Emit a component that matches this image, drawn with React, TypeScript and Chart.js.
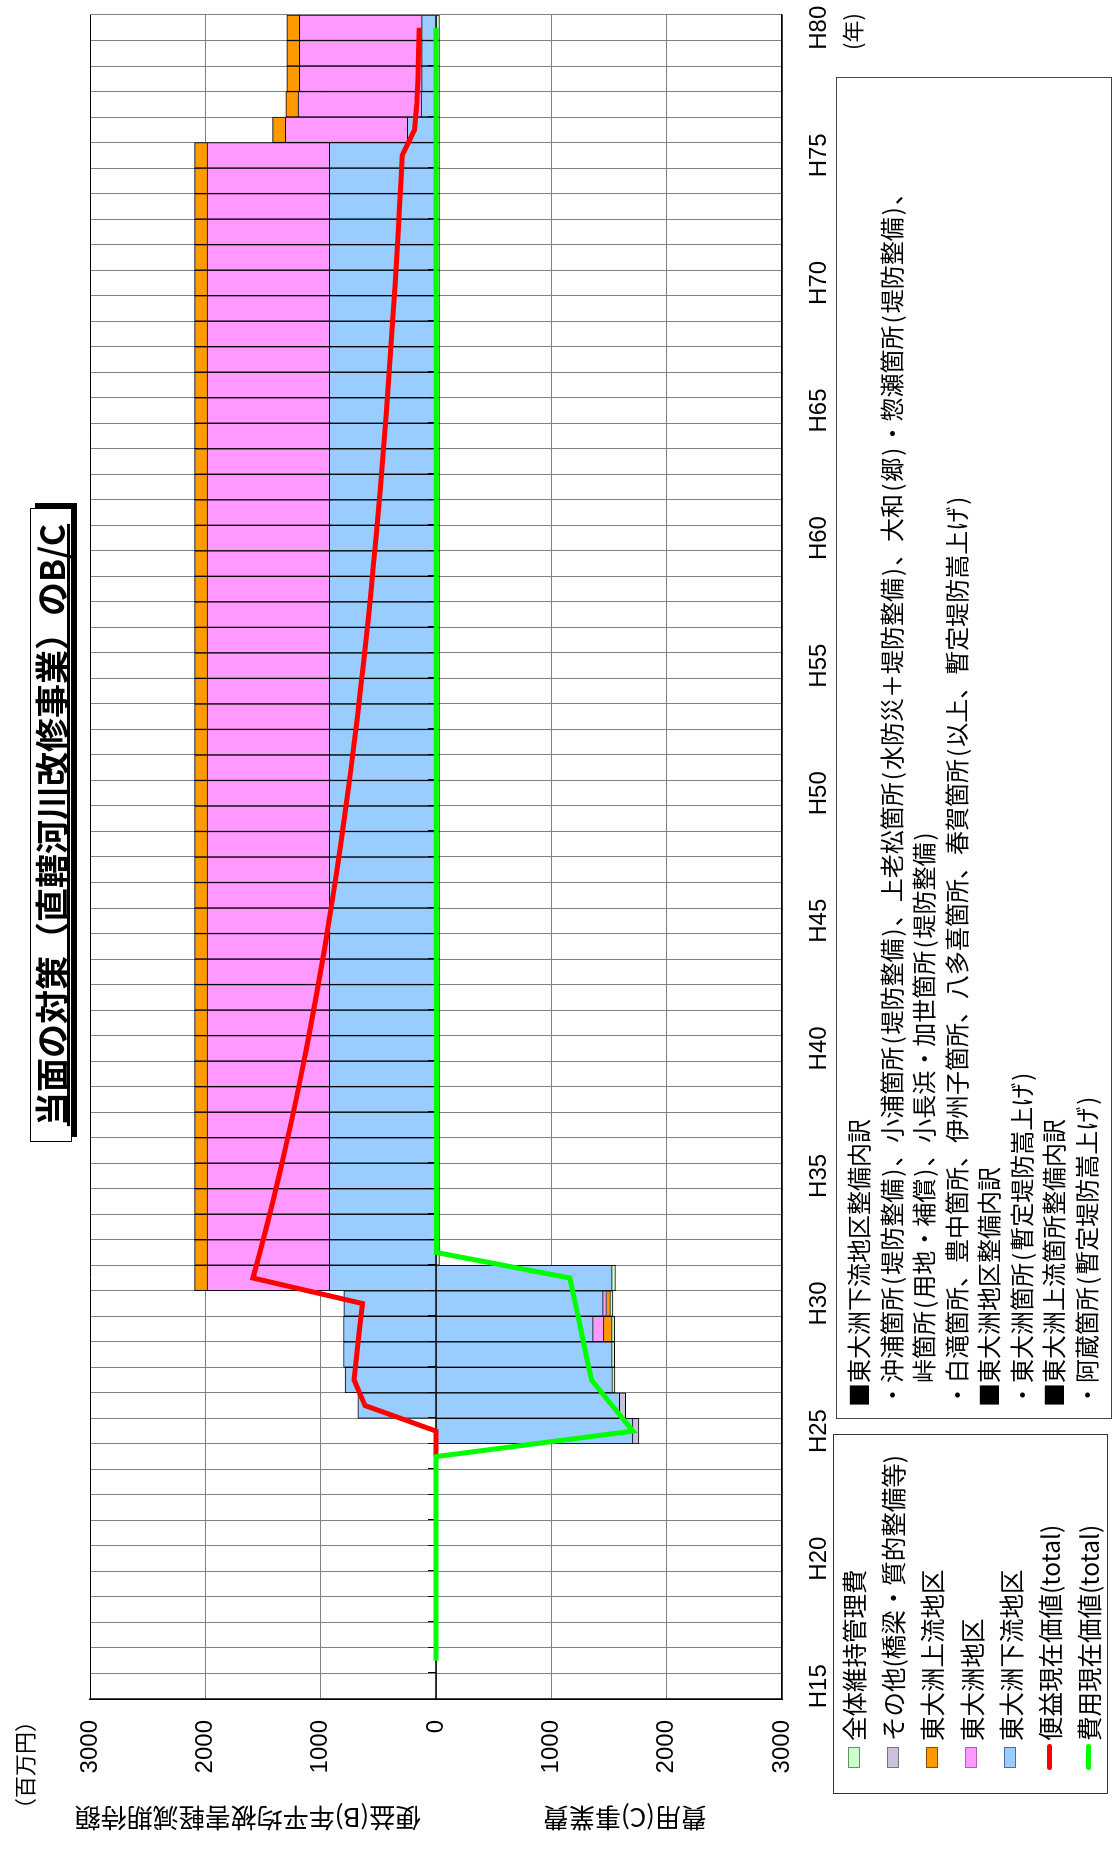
import React, { useEffect, useRef } from 'react';
import { Chart, registerables } from 'chart.js';

Chart.register(...registerables);

// ---------- data ----------
const years = [
  'H15','H16','H17','H18','H19','H20','H21','H22','H23','H24',
  'H25','H26','H27','H28','H29','H30','H31','H32','H33','H34',
  'H35','H36','H37','H38','H39','H40','H41','H42','H43','H44',
  'H45','H46','H47','H48','H49','H50','H51','H52','H53','H54',
  'H55','H56','H57','H58','H59','H60','H61','H62','H63','H64',
  'H65','H66','H67','H68','H69','H70','H71','H72','H73','H74',
  'H75','H76','H77','H78','H79','H80',
];
const shownYears = ['H15','H20','H25','H30','H35','H40','H45','H50','H55','H60','H65','H70','H75','H80'];

// Benefit (B) stacked bars, 百万円
const benefitDownstream = [
  null,null,null,null,null,null,null,null,null,null,null,
  678,788,802,802,800,
  924,924,924,924,924,924,924,924,924,924,924,924,924,924,924,
  924,924,924,924,924,924,924,924,924,924,924,924,924,924,924,
  924,924,924,924,924,924,924,924,924,924,924,924,924,924,924,
  248,130,124,124,124,
];
const benefitCentral = [
  null,null,null,null,null,null,null,null,null,null,null,null,null,null,null,null,
  1061,1061,1061,1061,1061,1061,1061,1061,1061,1061,1061,1061,1061,1061,1061,
  1061,1061,1061,1061,1061,1061,1061,1061,1061,1061,1061,1061,1061,1061,1061,
  1061,1061,1061,1061,1061,1061,1061,1061,1061,1061,1061,1061,1061,1061,1061,
  1059,1066,1060,1060,1060,
];
const benefitUpstream = [
  null,null,null,null,null,null,null,null,null,null,null,null,null,null,null,null,
  108,108,108,108,108,108,108,108,108,108,108,108,108,108,108,
  108,108,108,108,108,108,108,108,108,108,108,108,108,108,108,
  108,108,108,108,108,108,108,108,108,108,108,108,108,108,108,
  110,106,109,109,109,
];

// Cost (C) stacked bars, 百万円 (drawn downward)
const costDownstream = [
  null,null,null,null,null,null,null,null,null,null,
  1708,1593,1530,1527,1362,1449,1527,
  null,null,null,null,null,null,null,null,null,null,null,null,null,null,null,null,null,
  null,null,null,null,null,null,null,null,null,null,null,null,null,null,null,null,
  null,null,null,null,null,null,null,null,null,null,null,null,null,null,null,null,
];
const costCentral = [
  null,null,null,null,null,null,null,null,null,null,null,null,null,null,
  93,29,
  null,null,null,null,null,null,null,null,null,null,null,null,null,null,null,null,null,
  null,null,null,null,null,null,null,null,null,null,null,null,null,null,null,null,null,
  null,null,null,null,null,null,null,null,null,null,null,null,null,null,null,null,
];
const costUpstream = [
  null,null,null,null,null,null,null,null,null,null,null,null,null,null,
  72,35,
  null,null,null,null,null,null,null,null,null,null,null,null,null,null,null,null,null,
  null,null,null,null,null,null,null,null,null,null,null,null,null,null,null,null,null,
  null,null,null,null,null,null,null,null,null,null,null,null,null,null,null,null,
];
const costOther = [
  null,null,null,null,null,null,null,null,null,null,
  52,52,
  null,null,null,null,null,null,null,null,null,null,null,null,null,null,null,null,null,null,
  null,null,null,null,null,null,null,null,null,null,null,null,null,null,null,null,null,null,
  null,null,null,null,null,null,null,null,null,null,null,null,null,null,null,null,null,null,
];
const costMaintenance = [
  null,null,null,null,null,null,null,null,null,null,null,null,
  22,23,23,22,29,
  30,30,30,30,30,30,30,30,30,30,30,30,30,30,30,30,30,
  30,30,30,30,30,30,30,30,30,30,30,30,30,30,30,30,
  30,30,30,30,30,30,30,30,30,30,30,30,30,30,30,30,
];

// Present values (total)
const benefitPV = [
  null,null,null,null,null,null,null,null,null,
  0,0,615,710,688,664,638,
  1587,1527,1470,1414,1361,1310,1260,1213,1167,1123,1081,1040,1001,963,927,
  892,858,826,795,765,736,708,681,656,631,607,584,562,541,521,
  501,482,464,446,430,413,398,383,368,354,341,328,316,304,292,
  186,166,157,151,146,
];
const costPV = [
  null,
  0,0,0,0,0,0,0,0,0,
  1708,1527,1348,1301,1255,1208,1160,
  5,5,5,5,4,4,4,4,4,4,4,3,3,3,3,3,3,3,3,3,3,3,
  2,2,2,2,2,2,2,2,2,2,2,2,2,2,2,2,
  1,1,1,1,1,1,1,1,1,1,1,
];

// ---------- styles ----------
const BLUE = '#99CCFF';
const PINK = '#FF99FF';
const ORANGE = '#FF9900';
const LAVENDER = '#CCC0DA';
const LIGHTGREEN = '#CCFFCC';
const RED = '#FF0000';
const GREEN = '#00FF00';

const JP = '"Noto Sans CJK JP", "Noto Sans", sans-serif';
const LAT = '"Liberation Sans", Arial, sans-serif';

const legendItems = [
  { label: '全体維持管理費', kind: 'box', color: LIGHTGREEN, edge: '#5a9a5a' },
  { label: 'その他(橋梁・質的整備等)', kind: 'box', color: LAVENDER, edge: '#777777' },
  { label: '東大洲上流地区', kind: 'box', color: ORANGE, edge: '#8a4a00' },
  { label: '東大洲地区', kind: 'box', color: PINK, edge: '#b060b0' },
  { label: '東大洲下流地区', kind: 'box', color: BLUE, edge: '#4a6e9a' },
  { label: '便益現在価値(total)', kind: 'line', color: RED, edge: RED },
  { label: '費用現在価値(total)', kind: 'line', color: GREEN, edge: GREEN },
];

const notes = [
  { text: '■東大洲下流地区整備内訳', indent: 0 },
  { text: '・沖浦箇所(堤防整備)、小浦箇所(堤防整備)、上老松箇所(水防災＋堤防整備)、大和(郷)・惣瀬箇所(堤防整備)、', indent: 0 },
  { text: '峠箇所(用地・補償)、小長浜・加世箇所(堤防整備)', indent: 1 },
  { text: '・白滝箇所、豊中箇所、伊州子箇所、八多喜箇所、春賀箇所(以上、暫定堤防嵩上げ)', indent: 0 },
  { text: '■東大洲地区整備内訳', indent: 0 },
  { text: '・東大洲箇所(暫定堤防嵩上げ)', indent: 0 },
  { text: '■東大洲上流箇所整備内訳', indent: 0 },
  { text: '・阿蔵箇所(暫定堤防嵩上げ)', indent: 0 },
];

const W = 1860; // unrotated width
const H = 1118; // unrotated height

const neg = (a: (number | null)[]) => a.map((v) => (v == null ? null : -v));

// parentheses a little wider than ASCII ones (proportional Japanese font look)
function withParens(text: string) {
  const parts = text.split(/([()])/);
  return parts.map((p, i) =>
    p === '(' || p === ')' ? (
      <span key={i} style={{ margin: '0 0.085em' }}>
        {p}
      </span>
    ) : (
      <React.Fragment key={i}>{p}</React.Fragment>
    )
  );
}

const zeroLinePlugin = {
  id: 'zeroLine',
  beforeDatasetsDraw(chart: any) {
    chart.$zeroDone = false;
  },
  beforeDatasetDraw(chart: any, args: any) {
    if (chart.$zeroDone || args.meta.type !== 'line') return;
    chart.$zeroDone = true;
    const { ctx, chartArea } = chart;
    const y0 = chart.scales.y.getPixelForValue(0);
    const n = years.length;
    const band = (chartArea.right - chartArea.left) / n;
    ctx.save();
    ctx.strokeStyle = '#000';
    ctx.lineWidth = 1.5;
    ctx.beginPath();
    ctx.moveTo(chartArea.left, y0);
    ctx.lineTo(chartArea.right, y0);
    ctx.stroke();
    ctx.lineWidth = 1;
    ctx.beginPath();
    for (let k = 1; k < n; k++) {
      const x = Math.round(chartArea.left + k * band) + 0.5;
      ctx.moveTo(x, y0 - 8);
      ctx.lineTo(x, y0);
    }
    ctx.stroke();
    ctx.restore();
  },
};

export default function App() {
  const ref = useRef<HTMLCanvasElement>(null);

  useEffect(() => {
    document.body.style.margin = '0';
    const bar = (label: string, data: (number | null)[], color: string) => ({
      type: 'bar' as const,
      label,
      data,
      backgroundColor: color,
      borderColor: '#000',
      borderWidth: 1,
      stack: 'bars',
      order: 10,
      barPercentage: 1,
      categoryPercentage: 1,
    });
    const chart = new Chart(ref.current as HTMLCanvasElement, {
      type: 'bar',
      data: {
        labels: years,
        datasets: [
          bar('東大洲下流地区', benefitDownstream, BLUE),
          bar('東大洲地区', benefitCentral, PINK),
          bar('東大洲上流地区', benefitUpstream, ORANGE),
          bar('東大洲下流地区(C)', neg(costDownstream), BLUE),
          bar('東大洲地区(C)', neg(costCentral), PINK),
          bar('東大洲上流地区(C)', neg(costUpstream), ORANGE),
          bar('その他(C)', neg(costOther), LAVENDER),
          bar('全体維持管理費(C)', neg(costMaintenance), LIGHTGREEN),
          {
            type: 'line' as const,
            label: '便益現在価値(total)',
            data: benefitPV,
            borderColor: RED,
            backgroundColor: RED,
            borderWidth: 5,
            pointRadius: 0,
            tension: 0,
            fill: false,
            stack: 'pvB',
            order: 1,
          },
          {
            type: 'line' as const,
            label: '費用現在価値(total)',
            data: neg(costPV),
            borderColor: GREEN,
            backgroundColor: GREEN,
            borderWidth: 5,
            pointRadius: 0,
            tension: 0,
            fill: false,
            stack: 'pvC',
            order: 0,
          },
        ] as any,
      },
      options: {
        responsive: false,
        animation: false,
        devicePixelRatio: 1,
        layout: { padding: { left: 0, right: 15, top: 90, bottom: 0 } },
        plugins: { legend: { display: false }, tooltip: { enabled: false } },
        scales: {
          x: {
            stacked: true,
            offset: true,
            grid: {
              offset: true,
              color: '#808080',
              lineWidth: 1,
              drawTicks: true,
              tickLength: 23,
              tickColor: 'rgba(0,0,0,0)',
            },
            border: { color: '#000', width: 1.5 },
            ticks: {
              autoSkip: false,
              maxRotation: 0,
              minRotation: 0,
              padding: 0,
              color: '#000',
              font: { family: LAT, size: 24 },
              callback: (_v: any, i: number) => (shownYears.includes(years[i]) ? years[i] : ''),
            },
            afterFit: (s: any) => {
              s.height = H - 782;
            },
          },
          y: {
            stacked: true,
            min: -3000,
            max: 3000,
            ticks: {
              stepSize: 1000,
              padding: 0,
              color: '#000',
              font: { family: LAT, size: 24 },
              callback: (v: any) => String(Math.abs(Number(v))),
            },
            grid: {
              drawTicks: true,
              tickLength: 21,
              tickColor: 'rgba(0,0,0,0)',
              color: (c: any) => (c.tick && c.tick.value === 3000 ? '#000' : '#808080'),
              lineWidth: 1,
            },
            border: { color: '#000', width: 1.5 },
            afterFit: (s: any) => {
              s.width = 161;
            },
          },
        },
      } as any,
      plugins: [zeroLinePlugin],
    });
    return () => chart.destroy();
  }, []);

  return (
    <div
      style={{
        position: 'absolute',
        left: 0,
        top: 0,
        width: W,
        height: H,
        background: '#fff',
        transformOrigin: '0 0',
        transform: `translateY(${W}px) rotate(-90deg)`,
        fontFamily: JP,
        color: '#000',
        overflow: 'hidden',
      }}
    >
      <canvas ref={ref} width={W} height={H} style={{ position: 'absolute', left: 0, top: 0, width: W, height: H }} />

      {/* title */}
      <div
        style={{
          position: 'absolute',
          left: 718,
          top: 30,
          width: 634,
          height: 42,
          boxSizing: 'border-box',
          border: '1px solid #000',
          boxShadow: '5px 5px 0 #000',
          background: '#fff',
          display: 'flex',
          alignItems: 'center',
          justifyContent: 'center',
          fontSize: 34,
          fontWeight: 700,
          textDecoration: 'underline',
          whiteSpace: 'nowrap',
          lineHeight: '40px',
        }}
      >
        当面の対策（直轄河川改修事業）のB/C
      </div>

      {/* unit */}
      <div style={{ position: 'absolute', left: 40, top: 10, fontSize: 22, lineHeight: '26px', whiteSpace: 'nowrap' }}>
        （百万円）
      </div>

      {/* axis titles */}
      <div
        style={{
          position: 'absolute',
          left: 41,
          top: 248,
          transform: 'translate(-50%, -50%) rotate(-90deg)',
          fontSize: 26,
          lineHeight: '28px',
          whiteSpace: 'nowrap',
        }}
      >
        便益(B)年平均被害軽減期待額
      </div>
      <div
        style={{
          position: 'absolute',
          left: 41,
          top: 625,
          transform: 'translate(-50%, -50%) rotate(-90deg)',
          fontSize: 26,
          lineHeight: '28px',
          whiteSpace: 'nowrap',
        }}
      >
        費用(C)事業費
      </div>

      {/* year unit */}
      <div style={{ position: 'absolute', left: 1810, top: 838, fontSize: 22, lineHeight: '26px', whiteSpace: 'nowrap' }}>
        (年)
      </div>

      {/* legend */}
      <div
        style={{
          position: 'absolute',
          left: 66,
          top: 833,
          width: 360,
          height: 275,
          boxSizing: 'border-box',
          border: '1px solid #333',
          background: '#fff',
        }}
      >
        {legendItems.map((it, i) => (
          <div key={it.label} style={{ position: 'absolute', left: 0, top: i * 39.2, width: '100%', height: 39.2 }}>
            {it.kind === 'box' ? (
              <div
                style={{
                  position: 'absolute',
                  left: 25,
                  top: 13.6,
                  width: 21,
                  height: 12,
                  boxSizing: 'border-box',
                  background: it.color,
                  border: `1.5px solid ${it.edge}`,
                }}
              />
            ) : (
              <div
                style={{
                  position: 'absolute',
                  left: 23,
                  top: 17,
                  width: 26,
                  height: 5,
                  borderRadius: 3,
                  background: it.color,
                }}
              />
            )}
            <div
              style={{
                position: 'absolute',
                left: 52,
                top: 0,
                lineHeight: '39px',
                fontSize: 24.5,
                whiteSpace: 'nowrap',
              }}
            >
              {it.label}
            </div>
          </div>
        ))}
      </div>

      {/* notes */}
      <div
        style={{
          position: 'absolute',
          left: 441,
          top: 836,
          width: 1342,
          height: 276,
          boxSizing: 'border-box',
          border: '1px solid #444',
          background: '#fff',
        }}
      >
        {notes.map((n, i) => (
          <div
            key={i}
            style={{
              position: 'absolute',
              left: 11 + n.indent * 24,
              top: 5 + i * 32.5,
              lineHeight: '32.5px',
              fontSize: 24,
              whiteSpace: 'nowrap',
            }}
          >
            {withParens(n.text)}
          </div>
        ))}
      </div>
    </div>
  );
}
